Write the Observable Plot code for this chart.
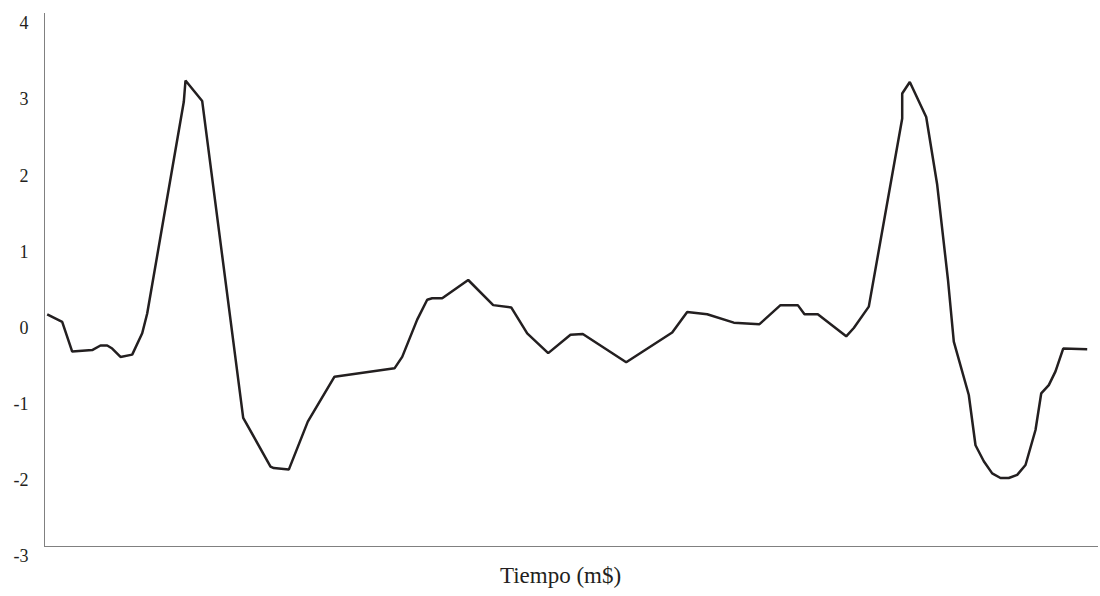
<!DOCTYPE html>
<html>
<head>
<meta charset="utf-8">
<script src="https://cdn.jsdelivr.net/npm/d3@7"></script>
<script src="https://cdn.jsdelivr.net/npm/@observablehq/plot@0.6"></script>
<style>
  html, body { margin: 0; padding: 0; background: #fff; }
  #chart svg { display: block; }
  #chart svg, #chart svg text { font-family: "Liberation Serif", "DejaVu Serif", serif !important; }
</style>
</head>
<body>
<div id="chart"></div>
<script>
const tiempo = [2.7, 17.7, 27.7, 47.7, 56, 62.7, 67.7, 76, 87.7, 97.7, 102.7, 139.3, 141, 157.7, 198.7, 226, 229.3, 244.3, 263.3, 290, 350, 357.7, 372.7, 382.7, 387.7, 397.7, 423.7, 448.7, 466.7, 482.7, 503.7, 526, 538.3, 581.7, 627.7, 642.7, 662.7, 689.3, 715, 736, 753.3, 760, 773.3, 801.7, 809.3, 824.3, 857.7, 857.7, 865.3, 881.7, 892.7, 903.5, 909.3, 924.3, 931, 939.3, 947.7, 956, 964.3, 972.7, 981, 991, 996.7, 1004.3, 1011, 1018.7, 1042.7];
const valores = [0.05, -0.05, -0.44, -0.42, -0.36, -0.36, -0.40, -0.51, -0.48, -0.20, 0.06, 2.84, 3.12, 2.85, -1.31, -1.95, -1.97, -1.99, -1.36, -0.77, -0.66, -0.51, -0.02, 0.24, 0.26, 0.26, 0.50, 0.17, 0.14, -0.20, -0.46, -0.22, -0.21, -0.58, -0.19, 0.08, 0.05, -0.06, -0.08, 0.17, 0.17, 0.05, 0.05, -0.24, -0.13, 0.15, 2.62, 2.95, 3.10, 2.64, 1.75, 0.50, -0.31, -1.01, -1.67, -1.88, -2.04, -2.10, -2.10, -2.06, -1.93, -1.47, -0.99, -0.88, -0.70, -0.40, -0.41];
const yTicks = [-3, -2, -1, 0, 1, 2, 3, 4];
const xLabel = "Tiempo (m$)";

const data = tiempo.map((t, i) => ({t, v: valores[i]}));
const serif = "Liberation Serif";

const chart = Plot.plot({
  width: 1100,
  height: 596,
  marginLeft: 44,
  marginRight: 2,
  marginTop: 13,
  marginBottom: 50,
  style: {fontFamily: serif, fontSize: "18px", color: "#231f20", background: "#fff"},
  x: {domain: [0, 1054], axis: null},
  y: {domain: [-3, 4], axis: null},
  marks: [
    Plot.ruleX([0], {stroke: "#808080", strokeWidth: 1}),
    Plot.ruleY([-3], {stroke: "#808080", strokeWidth: 1}),
    Plot.axisY({ticks: yTicks, tickSize: 0, tickPadding: 16, tickFormat: d => String(d), dy: 10, fontSize: 18, fontFamily: serif, fill: "#231f20", label: null}),
    Plot.line(data, {x: "t", y: "v", stroke: "#231f20", strokeWidth: 2.5, strokeLinejoin: "miter", strokeLinecap: "butt"}),
    Plot.text([xLabel], {frameAnchor: "bottom", dy: 36, dx: -11, fontSize: 23, fontFamily: serif, fill: "#231f20", text: d => d})
  ]
});
document.getElementById("chart").appendChild(chart);
</script>
</body>
</html>
